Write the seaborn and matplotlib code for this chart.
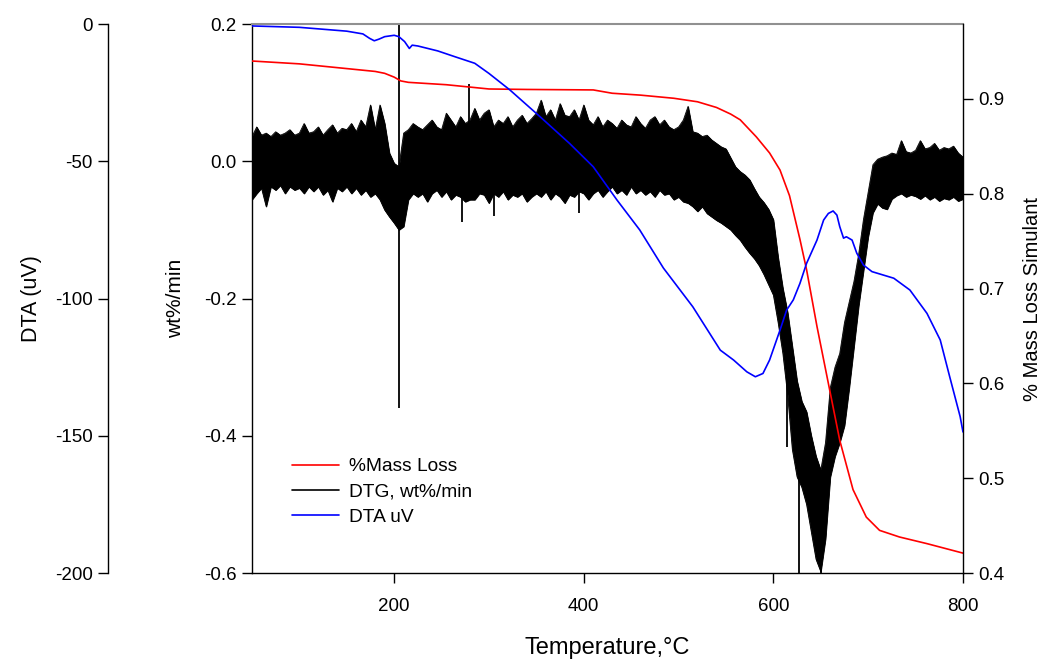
import numpy as np
import pandas as pd
import matplotlib
matplotlib.use("Agg")
import matplotlib.pyplot as plt
from matplotlib.lines import Line2D
import seaborn as sns

# ---------------- data ----------------
# DTG band (wt%/min): upper and lower envelope of the noisy trace, 5 degC grid
dtg_T = list(range(50, 805, 5))
dtg_hi = [0.036, 0.050, 0.038, 0.041, 0.036, 0.043, 0.038, 0.041, 0.046, 0.038,
          0.041, 0.055, 0.041, 0.043, 0.050, 0.038, 0.046, 0.053, 0.041, 0.048,
          0.046, 0.055, 0.043, 0.060, 0.050, 0.082, 0.046, 0.082, 0.055, 0.012,
          -0.003, -0.008, 0.041, 0.046, 0.055, 0.050, 0.046, 0.053, 0.060, 0.050,
          0.046, 0.070, 0.060, 0.050, 0.065, 0.055, 0.060, 0.077, 0.060, 0.070,
          0.075, 0.050, 0.060, 0.055, 0.065, 0.050, 0.060, 0.067, 0.055, 0.062,
          0.070, 0.089, 0.065, 0.075, 0.060, 0.084, 0.067, 0.065, 0.075, 0.060,
          0.082, 0.060, 0.053, 0.065, 0.050, 0.060, 0.055, 0.048, 0.060, 0.053,
          0.050, 0.065, 0.055, 0.048, 0.060, 0.065, 0.053, 0.060, 0.050, 0.046,
          0.050, 0.060, 0.080, 0.043, 0.041, 0.036, 0.038, 0.031, 0.026, 0.021,
          0.018, 0.005, -0.008, -0.015, -0.020, -0.027, -0.040, -0.052, -0.060, -0.070,
          -0.085, -0.140, -0.185, -0.220, -0.270, -0.320, -0.350, -0.365, -0.400, -0.430,
          -0.450, -0.410, -0.330, -0.300, -0.280, -0.235, -0.205, -0.175, -0.135, -0.085,
          -0.045, -0.005, 0.003, 0.006, 0.008, 0.012, 0.010, 0.030, 0.014, 0.012,
          0.016, 0.030, 0.018, 0.020, 0.026, 0.016, 0.020, 0.018, 0.022, 0.012,
          0.006]
dtg_lo = [-0.056, -0.047, -0.039, -0.066, -0.037, -0.042, -0.035, -0.047, -0.037, -0.042,
          -0.039, -0.047, -0.037, -0.044, -0.037, -0.049, -0.042, -0.059, -0.039, -0.044,
          -0.037, -0.047, -0.039, -0.049, -0.042, -0.052, -0.047, -0.056, -0.071, -0.081,
          -0.090, -0.100, -0.095, -0.056, -0.047, -0.052, -0.047, -0.059, -0.047, -0.042,
          -0.052, -0.044, -0.056, -0.049, -0.052, -0.059, -0.056, -0.056, -0.047, -0.049,
          -0.061, -0.047, -0.052, -0.044, -0.056, -0.049, -0.052, -0.047, -0.059, -0.052,
          -0.047, -0.052, -0.044, -0.056, -0.047, -0.052, -0.061, -0.049, -0.052, -0.044,
          -0.047, -0.056, -0.047, -0.042, -0.052, -0.044, -0.037, -0.047, -0.042, -0.049,
          -0.037, -0.047, -0.042, -0.049, -0.044, -0.052, -0.042, -0.049, -0.047, -0.056,
          -0.052, -0.059, -0.061, -0.066, -0.073, -0.066, -0.076, -0.081, -0.086, -0.090,
          -0.095, -0.100, -0.108, -0.115, -0.125, -0.134, -0.142, -0.152, -0.165, -0.180,
          -0.195, -0.235, -0.280, -0.340, -0.420, -0.460, -0.475, -0.500, -0.540, -0.580,
          -0.598, -0.550, -0.460, -0.430, -0.410, -0.385, -0.330, -0.270, -0.210, -0.160,
          -0.110, -0.075, -0.062, -0.068, -0.070, -0.055, -0.050, -0.047, -0.052, -0.049,
          -0.051, -0.055, -0.050, -0.056, -0.052, -0.058, -0.054, -0.056, -0.052, -0.058,
          -0.055]
# isolated DTG spikes (temperature, low end, high end)
spike_T = [205, 279, 272, 305, 395, 614, 627, 650]
spike_lo = [-0.360, 0.000, -0.088, -0.080, -0.075, -0.416, -0.600, -0.600]
spike_hi = [0.200, 0.113, -0.040, -0.040, -0.040, -0.300, -0.400, -0.450]

# % mass loss simulant (right axis)
mass_T = [50, 100, 150, 180, 190, 200, 207, 215, 255, 300, 340, 410, 430, 460, 495,
          520, 540, 555, 565, 582, 596, 607, 617, 628, 635, 646, 660, 670, 684, 698,
          712, 733, 762, 800]
mass = [0.940, 0.937, 0.932, 0.929, 0.927, 0.923, 0.919, 0.9175, 0.915, 0.9105,
        0.910, 0.9095, 0.906, 0.904, 0.9007, 0.897, 0.891, 0.884, 0.878, 0.860,
        0.843, 0.825, 0.798, 0.752, 0.720, 0.660, 0.590, 0.540, 0.488, 0.459,
        0.445, 0.438, 0.431, 0.421]

# DTA (uV, offset left axis)
dta_T = [50, 100, 150, 167, 174, 179, 184, 190, 200, 205, 211, 216, 219, 225, 246,
         264, 285, 300, 322, 354, 385, 410, 435, 459, 484, 515, 544, 558, 572, 581,
         589, 596, 607, 614, 621, 628, 635, 646, 653, 658, 663, 667, 670, 674, 677,
         683, 688, 695, 704, 727, 744, 762, 776, 786, 797, 800]
dta = [-0.7, -1.2, -2.6, -3.6, -5.2, -6.1, -5.5, -4.6, -4.1, -4.6, -6.4, -8.9, -7.7,
       -8.0, -9.8, -11.9, -14.3, -18.0, -24.0, -33.8, -43.5, -52.0, -64.1, -75.0,
       -88.9, -103.0, -118.8, -122.4, -126.7, -128.5, -127.3, -122.4, -111.5, -104.2,
       -100.5, -94.5, -87.2, -78.7, -71.4, -69.0, -68.1, -69.6, -73.8, -78.0, -77.5,
       -78.7, -83.5, -87.8, -90.2, -92.6, -96.9, -105.4, -115.1, -128.5, -143.0, -148.6]

x_ticks = [200, 400, 600, 800]
dtg_ticks = [0.2, 0.0, -0.2, -0.4, -0.6]
mass_ticks = [0.4, 0.5, 0.6, 0.7, 0.8, 0.9]
dta_ticks = [0, -50, -100, -150, -200]
legend_labels = ["%Mass Loss", "DTG, wt%/min", "DTA uV"]

# ---------------- plotting ----------------
sns.set_theme(style="ticks")
plt.rcParams["font.family"] = ["Liberation Sans", "DejaVu Sans"]
plt.rcParams["axes.unicode_minus"] = False
plt.rcParams["text.color"] = "black"
plt.rcParams["axes.labelcolor"] = "black"

fig = plt.figure(figsize=(10.49, 6.62), dpi=100)
ax = fig.add_axes([0.2402, 0.1344, 0.6778, 0.8293])

dtg_df = pd.DataFrame({"T": dtg_T, "hi": dtg_hi, "lo": dtg_lo})
ax.fill_between(dtg_df["T"], dtg_df["lo"], dtg_df["hi"], color="black", lw=0.6)
sns.lineplot(data=dtg_df, x="T", y="hi", ax=ax, color="black", lw=0.6)
sns.lineplot(data=dtg_df, x="T", y="lo", ax=ax, color="black", lw=0.6)
ax.vlines(spike_T, spike_lo, spike_hi, color="black", lw=1.3)

ax.set_xlim(50, 800)
ax.set_ylim(-0.6, 0.2)
ax.set_xticks(x_ticks)
ax.set_yticks(dtg_ticks)
ax.set_yticklabels([f"{v:.1f}" for v in dtg_ticks])
ax.set_xlabel("Temperature,°C", fontsize=17, labelpad=16)
ax.set_ylabel("wt%/min", fontsize=15, labelpad=14)

# right axis: mass loss
ax_r = ax.twinx()
mass_df = pd.DataFrame({"T": mass_T, "m": mass})
sns.lineplot(data=mass_df, x="T", y="m", ax=ax_r, color="#ff0000", lw=1.2)
ax_r.set_ylim(0.4, 0.979)
ax_r.set_yticks(mass_ticks)
ax_r.set_yticklabels([f"{v:.1f}" for v in mass_ticks])
ax_r.set_ylabel("% Mass Loss Simulant", fontsize=14.5, labelpad=13)

# offset left axis: DTA
ax_d = ax.twinx()
dta_df = pd.DataFrame({"T": dta_T, "d": dta})
sns.lineplot(data=dta_df, x="T", y="d", ax=ax_d, color="#0000ff", lw=1.2)
ax_d.set_ylim(-200, 0)
ax_d.set_yticks(dta_ticks)
ax_d.spines["left"].set_position(("axes", -0.2025))
ax_d.spines["left"].set_visible(True)
ax_d.spines["right"].set_visible(False)
ax_d.spines["top"].set_visible(False)
ax_d.spines["bottom"].set_visible(False)
ax_d.yaxis.set_ticks_position("left")
ax_d.yaxis.set_label_position("left")
ax_d.set_ylabel("DTA (uV)", fontsize=15.5, labelpad=9)

for a in (ax, ax_r, ax_d):
    a.tick_params(direction="out", length=7, width=1, colors="black",
                  labelsize=13.5, pad=4)
    for s in a.spines.values():
        s.set_color("black")
        s.set_linewidth(1.0)
ax.tick_params(axis="x", pad=11)
ax_r.set_xlabel("")
ax_d.set_xlabel("")
ax.spines["top"].set_visible(True)
ax.spines["top"].set_color("#909090")
ax.spines["top"].set_linewidth(1.5)
ax.spines["right"].set_visible(False)
ax_r.spines["top"].set_visible(False)
ax_r.spines["left"].set_visible(False)
ax_r.spines["bottom"].set_visible(False)
ax_r.spines["right"].set_visible(True)

handles = [Line2D([], [], color="#ff0000", lw=1.2),
           Line2D([], [], color="black", lw=1.2),
           Line2D([], [], color="#0000ff", lw=1.2)]
leg = ax_d.legend(handles, legend_labels, loc="center left",
                  bbox_to_anchor=(0.032, 0.148), frameon=False, fontsize=13.8,
                  handlelength=2.45, handletextpad=0.5, labelspacing=0.4)

fig.savefig("out.png", dpi=100)
